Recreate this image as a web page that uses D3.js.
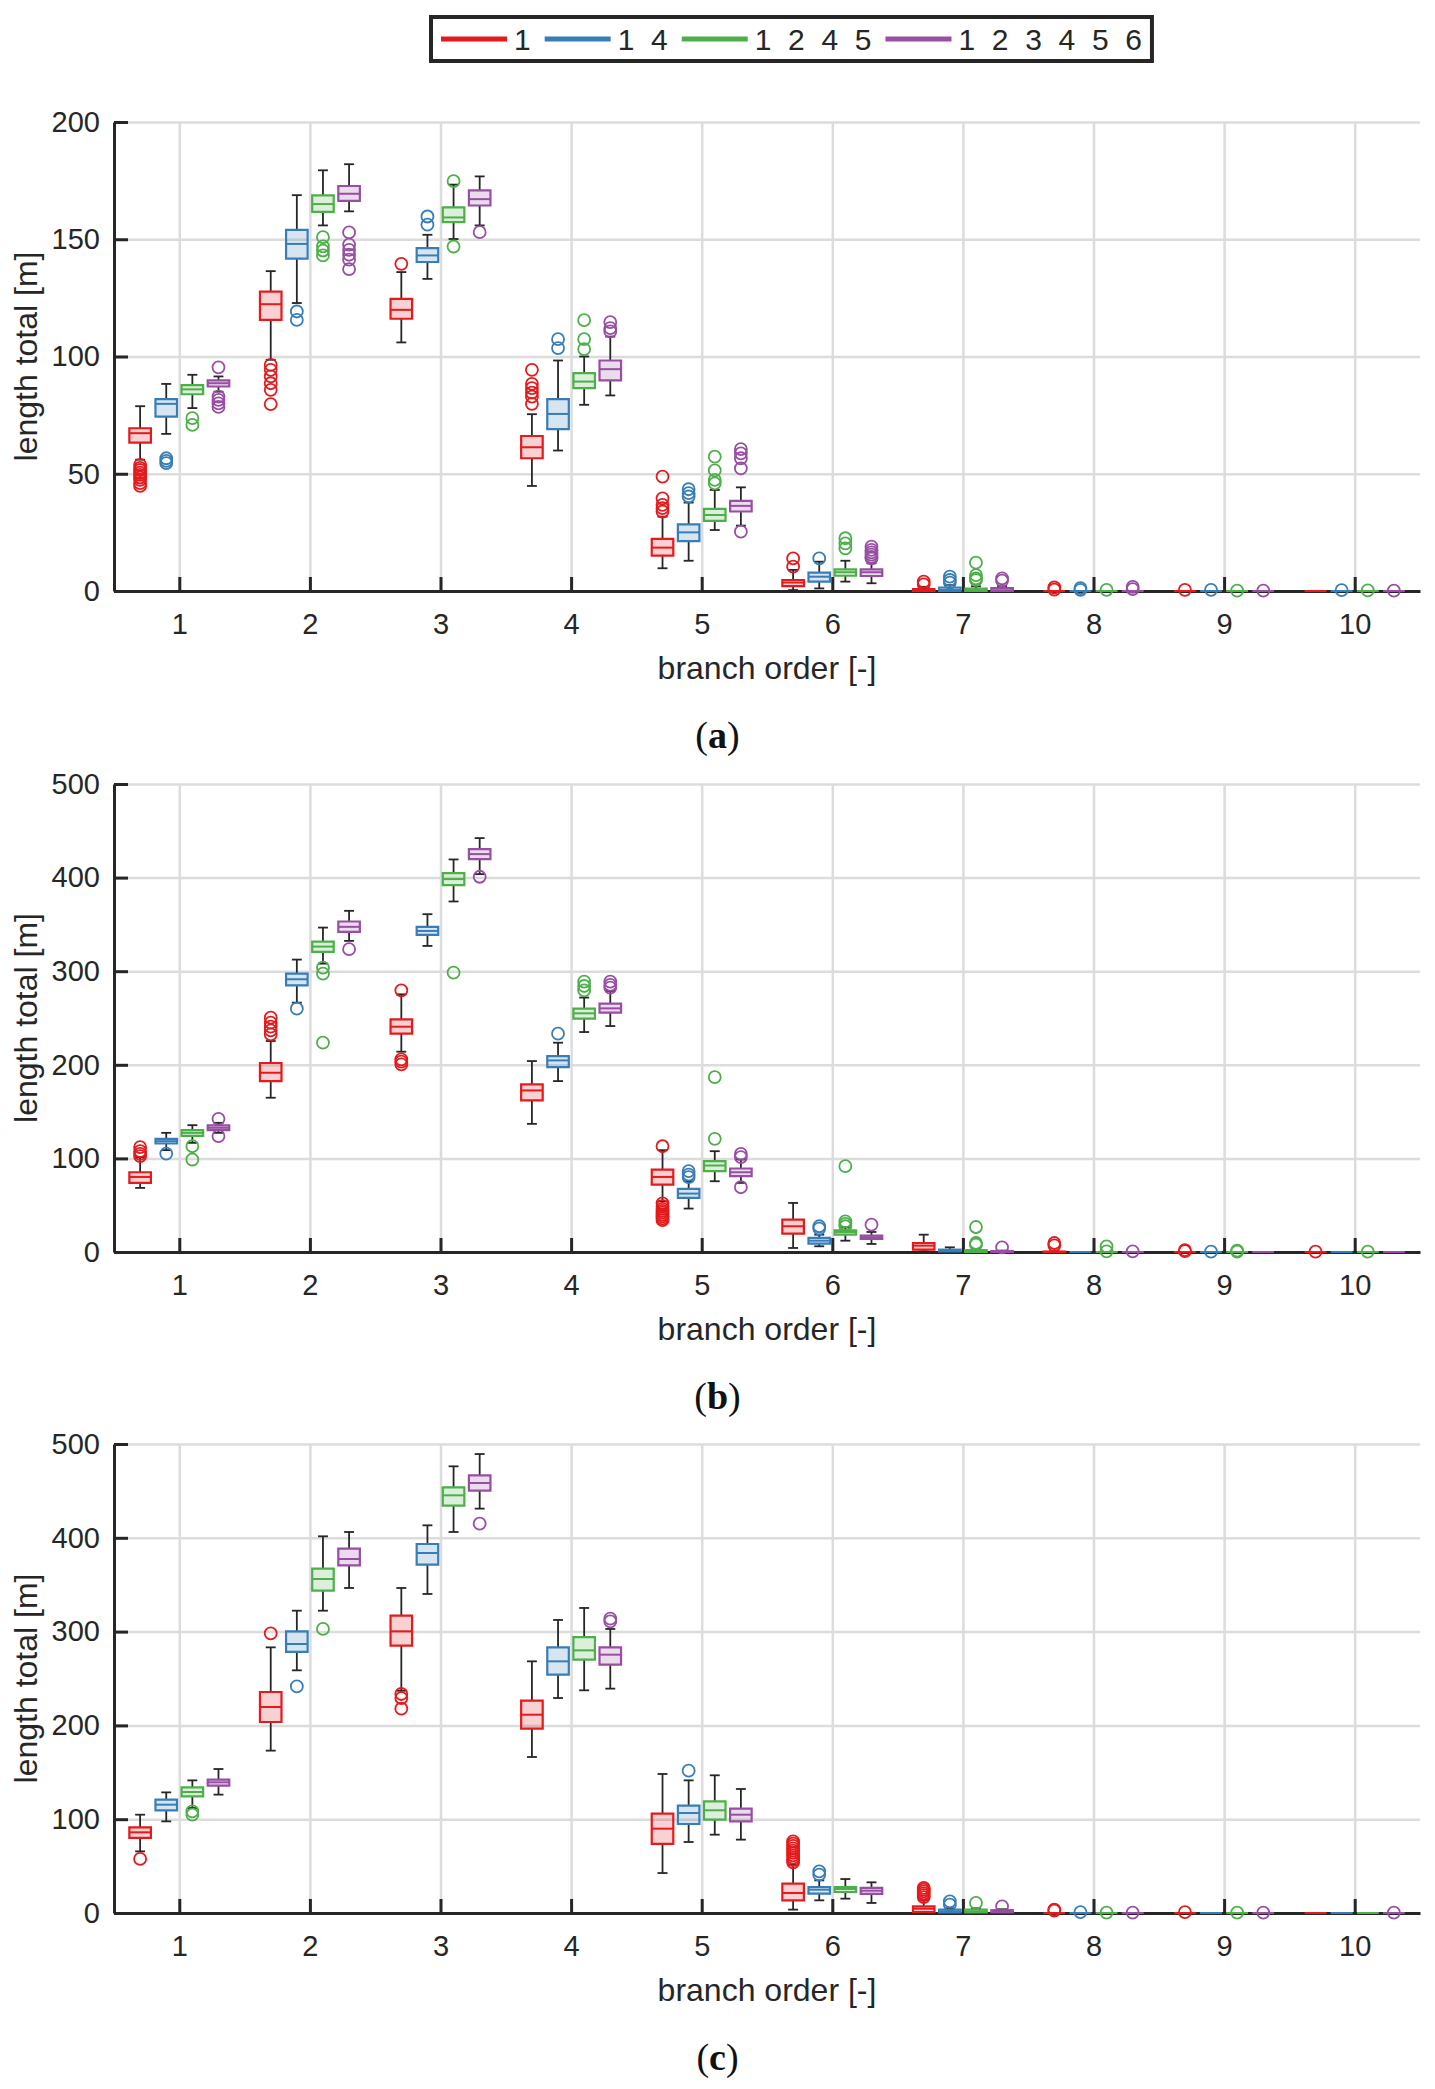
<!DOCTYPE html>
<html>
<head>
<meta charset="utf-8">
<script src="https://cdn.jsdelivr.net/npm/d3@7"></script>
<style>
  body { margin: 0; background: #fff; }
  text { font-family: 'Liberation Sans', Arial, Helvetica, sans-serif; fill: #262626; }
</style>
</head>
<body>
<svg id="chart" width="1435" height="2089"></svg>
<script>
// branch orders on the x axis
const orders = [1, 2, 3, 4, 5, 6, 7, 8, 9, 10]
const seriesNames = ['1', '1  4', '1  2  4  5', '1  2  3  4  5  6']
const seriesColors = ['#e41a1c', '#377eb8', '#4daf4a', '#984ea3']
const panelLetters = ['a', 'b', 'c']
const yTicksA = [0, 50, 100, 150, 200]
const yTicksBC = [0, 100, 200, 300, 400, 500]

// box stats per series, per order: [whisker low, q1, median, q3, whisker high]
const statsA = [
  [[56, 63.3, 67.3, 69.4, 78.8], [98.6, 115.6, 122.3, 127.7, 136.4], [106, 116.1, 119.9, 124.6, 136], [44.8, 56.6, 61.3, 66.1, 75.4], [9.7, 15.1, 18.5, 22.2, 31.7], [0.4, 2.1, 3.6, 4.7, 9], [0, 0, 0.3, 0.8, 1.8], [0, 0, 0, 0, 0], [0, 0, 0, 0, 0], [0, 0, 0, 0, 0]],
  [[67, 74.4, 79.8, 81.8, 88.3], [122.8, 141.7, 148, 154, 168.8], [133.1, 140.3, 143.1, 146.2, 151.9], [59.9, 69, 75.5, 81.8, 98.3], [12.9, 21.3, 25, 28.4, 37.7], [1.1, 4, 6.1, 7.8, 12.5], [0, 0, 0.5, 1.5, 2.5], [0, 0, 0, 0, 0], [0, 0, 0, 0, 0], [0, 0, 0, 0, 0]],
  [[78, 83.9, 86, 87.8, 92.2], [155.9, 161.7, 165, 168.7, 179.4], [150.1, 157.3, 159.3, 163.6, 173.3], [79.4, 86.5, 89.3, 92.9, 100], [26, 29.9, 32.4, 35, 43.1], [4, 6.5, 8, 9.2, 12.9], [0, 0, 0.3, 1, 2], [0, 0, 0, 0, 0], [0, 0, 0, 0, 0], [0, 0, 0, 0, 0]],
  [[85, 87.2, 88.6, 89.8, 91.5], [161.9, 166.4, 169.4, 172.7, 182], [155.9, 164.4, 167.1, 170.8, 176.8], [83.4, 89.8, 94.6, 98.3, 108.5], [27.9, 33.9, 36.3, 38.4, 44.2], [3.3, 6.4, 8, 9.2, 11.8], [0, 0, 0.3, 1.2, 2], [0, 0, 0, 0, 0], [0, 0, 0, 0, 0], [0, 0, 0, 0, 0]]
]
const outliersA = [
  [[53.8, 52.5, 51.6, 50.5, 49.5, 48.4, 47.4, 46, 44.8], [96.4, 94.3, 91.5, 88.6, 85.8, 79.7], [139.5], [94.3, 88.3, 86.5, 84.6, 82.9, 79.8], [48.8, 39.5, 36.7, 35.3, 33.9], [13.9, 10.4], [4, 2.8], [1.5, 0.6], [0.5], []],
  [[56.6, 55.5, 54.5], [119.2, 115.6], [159.7, 156.2], [107.4, 103.6], [43.4, 41.7, 40.3], [13.9], [6.1, 4.7, 3.6], [1.2, 0.5], [0.5], [0.4]],
  [[73.7, 70.8], [150.9, 147, 145.2, 143.1], [174.8, 146.9], [115.5, 107.4, 103.1], [57.3, 51.4, 47.4, 45.9], [22.5, 20.3, 18.2], [12.1, 6.8, 5.4, 4.7], [0.5], [0.2], [0.3]],
  [[95.4, 82.9, 81.5, 80, 78.5], [152.9, 147.7, 145.5, 143.4, 141.3, 137.3], [153], [114.7, 112.1, 110.7], [60.5, 58.7, 56.6, 52.3, 25.3], [18.9, 17.5, 16.5, 15.5, 14.5, 13.9], [5.4, 4.4], [1.8, 0.8], [0.2], [0.2]]
]

const statsB = [
  [[68.5, 73.8, 80.2, 85.2, 101.3], [164.8, 182.6, 191.5, 201.9, 225.4], [214, 233.2, 240.7, 248.6, 275.3], [136.9, 161.9, 172.6, 179, 204], [54.2, 72, 80.2, 88.1, 108.8], [4.3, 19.6, 27.5, 34.6, 52.4], [0.7, 2.5, 6.8, 9.6, 18.5], [0, 0, 0, 0.5, 1], [0, 0, 0, 0, 0], [0, 0, 0, 0, 0]],
  [[108.8, 115.9, 118.4, 120.9, 127.3], [266.4, 284.9, 291.4, 297.4, 312.4], [327, 338.8, 343, 347.4, 360.9], [182.6, 197.6, 204.7, 209.3, 223.6], [46.4, 57.8, 62.4, 67.4, 75.6], [6.1, 8.9, 12.1, 15, 18.5], [0.7, 0.7, 1.5, 2.5, 5], [0, 0, 0, 0, 0], [0, 0, 0, 0, 0], [0, 0, 0, 0, 0]],
  [[116.6, 124.1, 127.3, 130.2, 135.5], [308.1, 320.6, 326.3, 331.7, 346.6], [374.5, 392, 398.4, 404.8, 419.4], [235, 249.3, 255, 260, 271.8], [75.6, 86.3, 92.4, 97, 107.7], [12.1, 18.5, 21.4, 23.2, 26.4], [0, 0, 0.5, 2, 3], [0, 0, 0, 0, 0], [0, 0, 0, 0, 0], [0, 0, 0, 0, 0]],
  [[127.3, 130.2, 132.7, 135.2, 138], [332.4, 342, 347.4, 353.1, 364.5], [403.7, 419.8, 425.1, 430.5, 442.2], [241.4, 255.7, 260.3, 265.3, 278.9], [73.8, 81, 85.2, 89.2, 98.8], [8.6, 13.9, 15.7, 17.5, 21.4], [0, 0, 0.3, 1, 1.5], [0, 0, 0, 0, 0], [0, 0, 0, 0, 0], [0, 0, 0, 0, 0]]
]
const outliersB = [
  [[112, 107.7, 104.8, 102.4], [250.4, 245, 240.7, 236.8, 232.5], [279.6, 205.8, 203.3, 200.4], [], [113, 52, 49, 46, 44, 42, 40, 38, 36, 34], [], [], [9.6, 7.1], [2, 1], [0.5]],
  [[105.2], [260], [], [233.2], [86.3, 82.7, 79.9], [27.5, 25], [], [], [0.3], []],
  [[113, 98.8], [303.8, 297.4, 223.6], [298.5], [288.9, 284.2, 279.6], [186.9, 120.9], [91.7, 32.8, 30, 27.5], [26.7, 9.6, 7.8], [6, 0.7], [1.5, 0.5], [0.5]],
  [[142.3, 123.8], [323.5], [400.9], [288.9, 285.3, 282.5], [104.8, 101.3, 69.2], [29.2], [5], [0.7], [], []]
]

const statsC = [
  [[65.7, 80, 86, 91.3, 104.8], [173.1, 203.6, 219.6, 235.6, 283.2], [237, 285, 300.3, 317, 346.5], [166.3, 196.5, 211.4, 226.4, 268.3], [42.6, 73.6, 89.9, 105.9, 148.2], [3.6, 13.5, 21.3, 31.3, 51.5], [0, 1, 4.6, 7.1, 14], [0, 0, 0, 0, 0], [0, 0, 0, 0, 0], [0, 0, 0, 0, 0]],
  [[97.7, 109.5, 115.5, 120.8, 128.6], [258.7, 278.3, 286.8, 300.3, 322.3], [340.1, 371.4, 383.8, 393.4, 413.3], [229.2, 254.1, 268.3, 283.2, 312.4], [75.7, 94.9, 106.6, 114.4, 141.4], [13.5, 20.6, 24.9, 27.7, 34.8], [0, 0.7, 1.5, 3.6, 5], [0, 0, 0, 0, 0], [0, 0, 0, 0, 0], [0, 0, 0, 0, 0]],
  [[111.9, 124.4, 129, 134, 141.4], [322.3, 343.6, 356.1, 367.1, 401.6], [406.2, 434.3, 445.3, 453.8, 476.2], [237.4, 270.1, 280, 294.2, 325.2], [83.5, 99.5, 109.5, 119, 146.8], [15.3, 22.4, 25.6, 27.7, 36.2], [0, 0.7, 1.5, 3.6, 5], [0, 0, 0, 0, 0], [0, 0, 0, 0, 0], [0, 0, 0, 0, 0]],
  [[126.2, 135.7, 139.3, 142.1, 153.5], [346.5, 370.6, 377.4, 388.4, 406.2], [431.1, 450.3, 458.4, 466.6, 489.3], [239.2, 264.7, 275.4, 283.2, 302.8], [78.2, 97.7, 104.8, 111.2, 132.2], [10.7, 20.3, 23.8, 26.7, 32.7], [0, 0.7, 1.5, 3, 4], [0, 0, 0, 0, 0], [0, 0, 0, 0, 0], [0, 0, 0, 0, 0]]
]
const outliersC = [
  [[57.6], [298.2], [233.5, 229.2, 217.8], [], [], [76.4, 74, 71.5, 69, 66.5, 64, 61.5, 59, 56.5, 54], [26.7, 25, 23, 21, 19, 17], [3.5, 2.5], [1], []],
  [[], [241.6], [], [], [151.7], [44.4, 40.9], [12.4, 8.9], [1], [], []],
  [[108.4, 104.8], [302.8], [], [], [], [], [10.7], [0.5], [0.5], []],
  [[], [], [415.1], [313.8, 311], [], [], [7.1], [0.5], [0.5], [0.5]]
]

const svg = d3.select('#chart')
const axisColor = '#262626'
const left = 114
const right = 1420

const x = d3.scaleLinear().domain([0.5, 10.5]).range([left, right])
const offsets = [-0.3, -0.1, 0.1, 0.3]
const boxW = x(1.165) - x(1)
const capW = x(1.038) - x(1)

const panels = [
  { top: 122, bottom: 591, yMax: 200, ticks: yTicksA, stats: statsA, outs: outliersA },
  { top: 784, bottom: 1252, yMax: 500, ticks: yTicksBC, stats: statsB, outs: outliersB },
  { top: 1444, bottom: 1913, yMax: 500, ticks: yTicksBC, stats: statsC, outs: outliersC }
]

/**
 * Draws one boxplot panel
 *
 * @param {*} p the panel settings
 * @param {number} i the panel index
 */
function drawPanel (p, i) {
  const y = d3.scaleLinear().domain([0, p.yMax]).range([p.bottom, p.top])
  const g = svg.append('g').attr('class', 'panel')

  // grid
  g.append('g')
    .attr('transform', `translate(0, ${p.bottom})`)
    .call(d3.axisBottom(x).tickValues(orders).tickSize(-(p.bottom - p.top)).tickFormat(''))
    .call(s => s.select('.domain').remove())
    .selectAll('line').attr('stroke', '#dcdcdc').attr('stroke-width', 2.5)
  g.append('g')
    .attr('transform', `translate(${left}, 0)`)
    .call(d3.axisLeft(y).tickValues(p.ticks).tickSize(-(right - left)).tickFormat(''))
    .call(s => s.select('.domain').remove())
    .selectAll('line').attr('stroke', '#dcdcdc').attr('stroke-width', 2.5)

  // axes
  const yAxis = g.append('g')
    .attr('transform', `translate(${left}, 0)`)
    .call(d3.axisLeft(y).tickValues(p.ticks).tickSize(-14).tickSizeOuter(0).tickPadding(14))
  const xAxis = g.append('g')
    .attr('transform', `translate(0, ${p.bottom})`)
    .call(d3.axisBottom(x).tickValues(orders).tickSize(-14).tickSizeOuter(0).tickPadding(22))
  for (const a of [yAxis, xAxis]) {
    a.select('.domain').attr('stroke', axisColor).attr('stroke-width', 3)
    a.selectAll('.tick line').attr('stroke', axisColor).attr('stroke-width', 3)
    a.selectAll('.tick text').attr('font-size', 29).attr('fill', axisColor)
      .attr('font-family', "'Liberation Sans', Arial, sans-serif")
  }

  // boxes
  p.stats.forEach((series, si) => {
    const color = seriesColors[si]
    const sg = g.append('g').attr('class', 'series')
    series.forEach((st, oi) => {
      const cx = x(orders[oi] + offsets[si])
      const [lo, q1, med, q3, hi] = st
      const wg = sg.append('g')
      if (hi > q3) {
        wg.append('line').attr('x1', cx).attr('x2', cx).attr('y1', y(q3)).attr('y2', y(hi))
        wg.append('line').attr('x1', cx - capW).attr('x2', cx + capW).attr('y1', y(hi)).attr('y2', y(hi))
      }
      if (lo < q1) {
        wg.append('line').attr('x1', cx).attr('x2', cx).attr('y1', y(q1)).attr('y2', y(lo))
        wg.append('line').attr('x1', cx - capW).attr('x2', cx + capW).attr('y1', y(lo)).attr('y2', y(lo))
      }
      wg.selectAll('line').attr('stroke', axisColor).attr('stroke-width', 1.8)

      const x0 = cx - boxW / 2
      const x1 = cx + boxW / 2
      sg.append('path')
        .attr('d', `M${x0},${y(q3)}H${x1}V${y(q1)}H${x0}Z`)
        .attr('fill', color)
        .attr('fill-opacity', 0.2)
        .attr('stroke', color)
        .attr('stroke-width', 2.2)
      sg.append('line')
        .attr('x1', x0).attr('x2', x1)
        .attr('y1', y(med)).attr('y2', y(med))
        .attr('stroke', color)
        .attr('stroke-width', 2)

      sg.selectAll(null)
        .data(p.outs[si][oi])
        .enter()
        .append('circle')
        .attr('cx', cx)
        .attr('cy', d => y(d))
        .attr('r', 6)
        .attr('fill', 'none')
        .attr('stroke', color)
        .attr('stroke-width', 1.8)
    })
  })

  // labels
  g.append('text')
    .attr('transform', `translate(37, ${(p.top + p.bottom) / 2}) rotate(-90)`)
    .attr('text-anchor', 'middle')
    .attr('font-size', 32)
    .text('length total [m]')
  g.append('text')
    .attr('x', (left + right) / 2)
    .attr('y', p.bottom + 88)
    .attr('text-anchor', 'middle')
    .attr('font-size', 32)
    .text('branch order [-]')

  const cap = g.append('text')
    .attr('x', 717.5)
    .attr('y', p.bottom + 157)
    .attr('text-anchor', 'middle')
    .attr('font-size', 38)
    .style('font-family', "'Liberation Serif', 'DejaVu Serif', serif")
    .style('fill', '#111')
  cap.append('tspan').text('(')
  cap.append('tspan').attr('font-weight', 'bold').text(panelLetters[i])
  cap.append('tspan').text(')')
}

panels.forEach(drawPanel)

// legend
const legend = svg.append('g').attr('class', 'legend')
const legBox = legend.append('rect')
  .attr('fill', '#fff')
  .attr('stroke', axisColor)
  .attr('stroke-width', 4)
let cursor = 441
seriesNames.forEach((name, i) => {
  legend.append('line')
    .attr('x1', cursor).attr('x2', cursor + 66)
    .attr('y1', 39).attr('y2', 39)
    .attr('stroke', seriesColors[i])
    .attr('stroke-width', 5)
  const t = legend.append('text')
    .attr('x', cursor + 73)
    .attr('y', 50)
    .attr('font-size', 30)
    .style('white-space', 'pre')
    .text(name)
  cursor += 73 + t.node().getComputedTextLength() + 14
})
legBox.attr('x', 431).attr('y', 17).attr('width', cursor - 431 - 4).attr('height', 44)
</script>
</body>
</html>
